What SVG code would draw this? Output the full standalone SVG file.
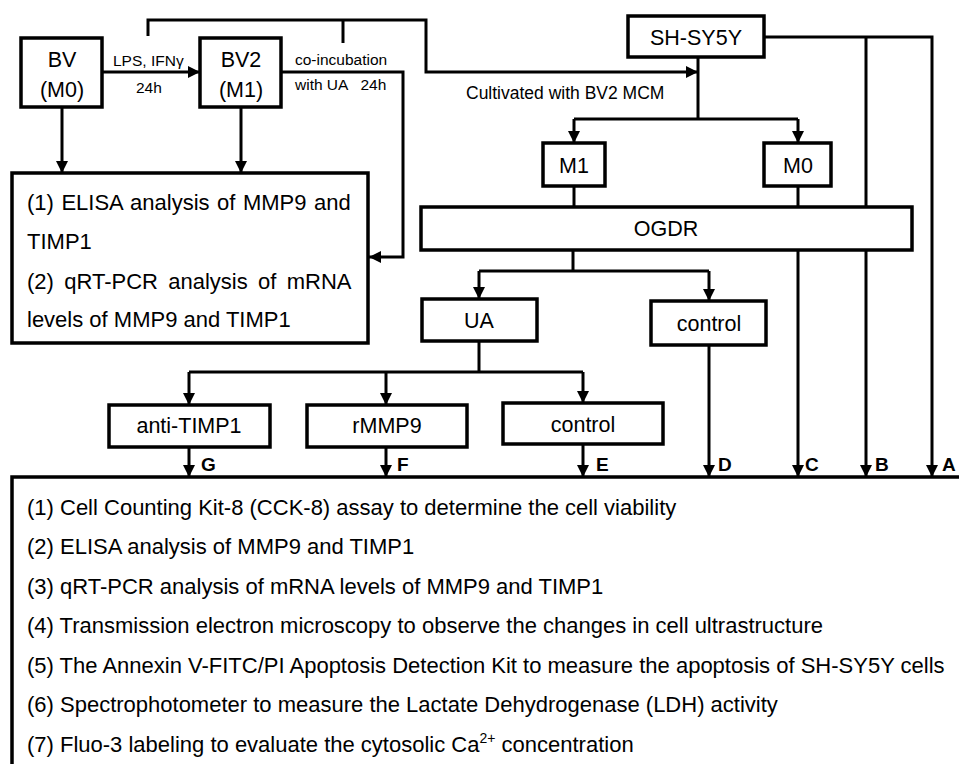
<svg xmlns="http://www.w3.org/2000/svg" width="959" height="764" viewBox="0 0 959 764">
<style>
.box{fill:#fff;stroke:#000;stroke-width:3.5}
.ln{fill:none;stroke:#000;stroke-width:3}
.t{font-family:"Liberation Sans",Arial,sans-serif;fill:#000}
.c{text-anchor:middle;font-size:21.5px}
.s{font-size:15.5px}
.lab{font-size:19px;font-weight:bold}
.big{font-size:22px}
</style>
<defs>
<marker id="ah" viewBox="0 0 10 10" refX="10" refY="5" markerWidth="12" markerHeight="12" markerUnits="userSpaceOnUse" orient="auto">
<path d="M0,0 L10,5 L0,10 z" fill="#000"/>
</marker>
</defs>
<rect width="959" height="764" fill="#fff"/>

<g id="connectors">
<polyline class="ln" points="148,36 148,20 426,20 426,72 698,72" marker-end="url(#ah)"/>
<line class="ln" x1="343" y1="20" x2="343" y2="43"/>
<line class="ln" x1="102" y1="72" x2="200" y2="72" marker-end="url(#ah)"/>
<polyline class="ln" points="281,72 403,72 403,257 369,257" marker-end="url(#ah)"/>
<line class="ln" x1="62" y1="107" x2="62" y2="173" marker-end="url(#ah)"/>
<line class="ln" x1="241" y1="107" x2="241" y2="173" marker-end="url(#ah)"/>
<line class="ln" x1="698" y1="57" x2="698" y2="119"/>
<line class="ln" x1="574" y1="119" x2="798" y2="119"/>
<line class="ln" x1="574" y1="119" x2="574" y2="143" marker-end="url(#ah)"/>
<line class="ln" x1="798" y1="119" x2="798" y2="143" marker-end="url(#ah)"/>
<polyline class="ln" points="764,37 932,37 932,477" marker-end="url(#ah)"/>
<line class="ln" x1="866" y1="37" x2="866" y2="477" marker-end="url(#ah)"/>
<line class="ln" x1="574" y1="186" x2="574" y2="207"/>
<line class="ln" x1="798" y1="186" x2="798" y2="477" marker-end="url(#ah)"/>
<line class="ln" x1="573" y1="250" x2="573" y2="271"/>
<line class="ln" x1="479" y1="271" x2="709" y2="271"/>
<line class="ln" x1="479" y1="271" x2="479" y2="299" marker-end="url(#ah)"/>
<line class="ln" x1="709" y1="271" x2="709" y2="301" marker-end="url(#ah)"/>
<line class="ln" x1="709" y1="345" x2="709" y2="477" marker-end="url(#ah)"/>
<line class="ln" x1="479" y1="341" x2="479" y2="372"/>
<line class="ln" x1="189" y1="372" x2="583" y2="372"/>
<line class="ln" x1="189" y1="372" x2="189" y2="405" marker-end="url(#ah)"/>
<line class="ln" x1="386" y1="372" x2="386" y2="405" marker-end="url(#ah)"/>
<line class="ln" x1="583" y1="372" x2="583" y2="403" marker-end="url(#ah)"/>
<line class="ln" x1="189" y1="447" x2="189" y2="477" marker-end="url(#ah)"/>
<line class="ln" x1="386" y1="447" x2="386" y2="477" marker-end="url(#ah)"/>
<line class="ln" x1="583" y1="444" x2="583" y2="477" marker-end="url(#ah)"/>
<text class="t s" x="113" y="66">LPS, IFNγ</text>
<text class="t s" x="136" y="93">24h</text>
<text class="t s" x="295" y="65">co-incubation</text>
<text class="t s" x="295" y="90" xml:space="preserve">with UA   24h</text>
<text class="t" x="466" y="99" font-size="17.5px">Cultivated with BV2 MCM</text>
<text class="t lab" x="201" y="471">G</text>
<text class="t lab" x="397" y="471">F</text>
<text class="t lab" x="596" y="471">E</text>
<text class="t lab" x="718" y="471">D</text>
<text class="t lab" x="805" y="471">C</text>
<text class="t lab" x="875" y="471">B</text>
<text class="t lab" x="942" y="471">A</text>
</g>

<g id="bv">
<rect class="box" x="21" y="38" width="81" height="69"/>
<text class="t c" x="62" y="67">BV</text>
<text class="t c" x="62" y="97">(M0)</text>
</g>
<g id="bv2">
<rect class="box" x="200" y="38" width="81" height="69"/>
<text class="t c" x="241" y="67">BV2</text>
<text class="t c" x="241" y="97">(M1)</text>
</g>
<g id="result1">
<rect class="box" x="12" y="173" width="356" height="170"/>
<text class="t big" x="27" y="210" word-spacing="1.4">(1) ELISA analysis of MMP9 and</text>
<text class="t big" x="27" y="249">TIMP1</text>
<text class="t big" x="27" y="289" word-spacing="4.2">(2) qRT-PCR analysis of mRNA</text>
<text class="t big" x="27" y="327">levels of MMP9 and TIMP1</text>
</g>
<g id="shsy5y">
<rect class="box" x="628" y="16" width="136" height="41"/>
<text class="t c" x="696" y="45" font-size="22px">SH-SY5Y</text>
</g>
<g id="m1">
<rect class="box" x="543" y="143" width="62" height="43"/>
<text class="t c" x="574" y="173">M1</text>
</g>
<g id="m0">
<rect class="box" x="764" y="143" width="67" height="43"/>
<text class="t c" x="798" y="173">M0</text>
</g>
<g id="ogdr">
<rect class="box" x="421" y="207" width="491" height="43"/>
<text class="t c" x="666" y="236">OGDR</text>
</g>
<g id="ua">
<rect class="box" x="422" y="299" width="115" height="42"/>
<text class="t c" x="479" y="328">UA</text>
</g>
<g id="control1">
<rect class="box" x="651" y="301" width="115" height="44"/>
<text class="t c" x="709" y="331">control</text>
</g>
<g id="antitimp1">
<rect class="box" x="109" y="405" width="161" height="42"/>
<text class="t c" x="189" y="433">anti-TIMP1</text>
</g>
<g id="rmmp9">
<rect class="box" x="307" y="405" width="160" height="42"/>
<text class="t c" x="387" y="433">rMMP9</text>
</g>
<g id="control2">
<rect class="box" x="503" y="403" width="160" height="41"/>
<text class="t c" x="583" y="432">control</text>
</g>
<g id="result2">
<rect class="box" x="12" y="477" width="960" height="300"/>
<text class="t big" x="27" y="515">(1) Cell Counting Kit-8 (CCK-8) assay to determine the cell viability</text>
<text class="t big" x="27" y="554">(2) ELISA analysis of MMP9 and TIMP1</text>
<text class="t big" x="27" y="594">(3) qRT-PCR analysis of mRNA levels of MMP9 and TIMP1</text>
<text class="t big" x="27" y="633">(4) Transmission electron microscopy to observe the changes in cell ultrastructure</text>
<text class="t big" x="27" y="673">(5) The Annexin V-FITC/PI Apoptosis Detection Kit to measure the apoptosis of SH-SY5Y cells</text>
<text class="t big" x="27" y="712">(6) Spectrophotometer to measure the Lactate Dehydrogenase (LDH) activity</text>
<text class="t big" x="27" y="752">(7) Fluo-3 labeling to evaluate the cytosolic Ca<tspan font-size="14px" dy="-9">2+</tspan><tspan dy="9"> concentration</tspan></text>
</g>
</svg>
